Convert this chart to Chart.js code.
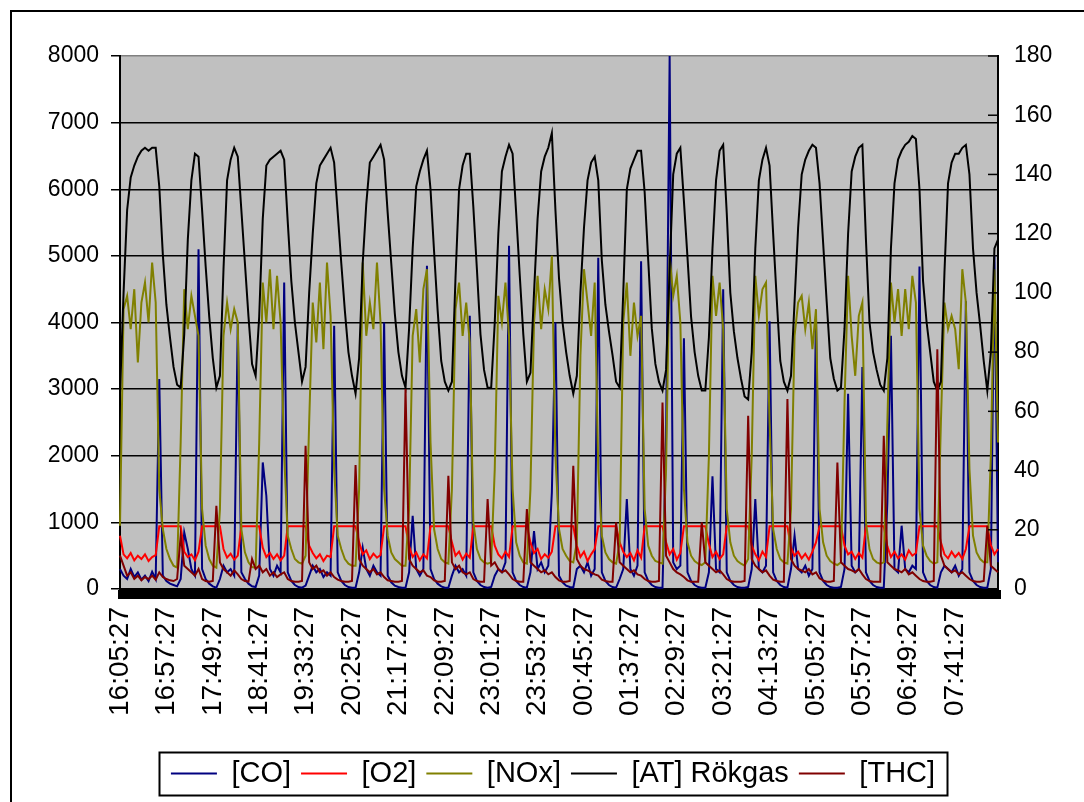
<!DOCTYPE html>
<html>
<head>
<meta charset="utf-8">
<script src="https://cdn.jsdelivr.net/npm/chart.js@4.4.0/dist/chart.umd.min.js"></script>
<style>
  html, body { margin: 0; padding: 0; background: #fff; }
  #wrap { position: relative; width: 1084px; height: 802px; overflow: hidden; }
  #frame { position: absolute; left: 10px; top: 10px; width: 1100px; height: 900px; border: 2px solid #000; }
  #myChart { position: absolute; left: 0; top: 0; }
</style>
</head>
<body>
<div id="wrap">
  <div id="frame"></div>
  <canvas id="myChart" width="1084" height="802"></canvas>
</div>
<script>
// one sample every 4 minutes, a time label every 13 samples
var tickLabels = ['16:05:27', '16:57:27', '17:49:27', '18:41:27', '19:33:27', '20:25:27', '21:17:27',
	'22:09:27', '23:01:27', '23:53:27', '00:45:27', '01:37:27', '02:29:27', '03:21:27', '04:13:27',
	'05:05:27', '05:57:27', '06:49:27', '07:41:27'];

// [CO] (left axis)
var co = [
	300,200,150,300,180,250,140,200,120,260,150,3150,200,
	120,80,60,40,150,850,600,300,200,5100,300,150,80,
	40,20,150,350,250,300,200,4000,250,150,80,40,30,
	200,1900,1400,300,200,350,250,4600,250,120,60,30,20,
	50,200,350,250,300,180,250,200,3950,250,120,60,30,
	20,20,250,620,300,200,350,250,200,4000,200,100,50,
	30,20,20,250,1100,300,200,300,4850,300,150,80,40,
	20,20,200,350,250,300,200,4100,250,120,60,30,20,
	30,200,300,250,400,5150,250,120,60,30,20,250,870,
	300,400,250,350,1450,4000,200,100,50,30,20,300,350,
	250,400,200,300,4970,250,120,60,30,20,150,300,1350,
	300,200,350,4920,250,120,60,30,20,20,2270,8000,400,
	300,350,3765,250,120,60,30,20,20,250,1690,300,250,
	4500,250,120,60,30,20,20,30,300,1350,300,250,350,
	4020,250,120,60,30,20,300,800,300,250,350,200,300,
	4100,250,120,60,30,20,20,30,300,2930,350,250,300,
	3330,250,120,60,30,20,20,1300,3800,300,250,950,300,
	250,350,300,4840,250,120,60,30,20,250,350,300,250,
	350,200,300,4320,250,120,60,30,20,20,300,5000,400
];

// [O2] (left axis)
var o2 = [
	800,520,460,540,430,500,450,520,420,480,510,940,940,
	940,940,940,940,940,560,480,520,430,560,940,940,940,
	940,940,940,600,470,530,440,500,940,940,940,940,940,
	940,620,480,540,450,520,430,500,940,940,940,940,940,
	940,650,540,460,520,420,500,480,940,940,940,940,940,
	940,940,700,520,580,450,530,470,510,940,940,940,940,
	940,940,940,640,480,550,430,520,460,940,940,940,940,
	940,940,700,500,560,440,530,470,940,940,940,940,940,
	940,650,520,460,560,480,940,940,940,940,940,700,540,
	600,450,520,470,560,940,940,940,940,940,940,650,480,
	560,420,520,600,940,940,940,940,940,940,700,560,480,
	540,430,580,470,940,940,940,940,940,940,700,520,600,
	440,540,940,940,940,940,940,940,940,680,480,560,450,
	520,940,940,940,940,940,940,940,650,520,430,560,480,
	940,940,940,940,940,940,620,500,560,460,530,440,560,
	700,940,940,940,940,940,940,940,650,520,560,450,540,
	470,940,940,940,940,940,940,640,480,560,460,520,440,
	580,500,540,940,940,940,940,940,940,700,520,460,560,
	480,540,450,600,940,940,940,940,940,940,660,520,600
];

// [NOx] (left axis)
var nox = [
	950,4200,4400,3900,4500,3400,4300,4600,4000,4900,4300,1500,900,
	600,450,350,320,2200,4500,3900,4400,4100,3800,1200,650,450,
	350,320,1200,3800,4300,3900,4200,4000,900,550,400,330,320,
	2200,4600,4000,4800,3900,4700,4000,2000,800,600,450,400,380,
	500,2500,4300,3700,4600,3600,4900,4100,1800,800,600,450,380,
	350,350,1500,4900,3800,4300,3900,4900,4000,1500,800,550,450,
	400,350,350,1200,3800,4200,3400,4500,4800,2200,900,600,450,
	400,380,1500,4200,4600,3800,4300,3700,1000,600,450,400,380,
	400,1800,4400,4000,4600,3800,1500,700,500,400,380,1500,4000,
	4700,3900,4500,4200,5000,2000,900,600,500,420,400,700,3500,
	4800,4300,3800,4600,1800,800,550,450,400,380,700,4000,4600,
	3500,4300,3800,4100,1200,650,500,420,400,380,1800,5000,4400,
	4700,4000,1500,700,500,420,380,360,400,2000,4700,4100,4600,
	3900,1200,700,500,420,380,350,450,2000,4700,4100,4500,4600,
	2500,900,600,450,400,380,1200,3800,4300,4400,3900,4300,3600,
	4200,1200,700,500,420,380,360,400,2800,4700,3800,3200,4100,
	4300,1000,600,450,400,380,400,2500,4600,4000,4500,3800,4500,
	3900,4700,4300,1200,650,500,420,380,400,2500,4300,3900,4100,
	3900,3300,4800,4300,1800,800,550,450,400,400,2000,4800,2200
];

// [AT] Rökgas (right axis)
var at = [
	66,100,128,139,143,146,148,149,148,149,149,136,113,
	96,85,75,69,68,86,118,138,147,146,128,109,92,
	78,68,72,108,138,145,149,146,128,110,92,76,72,
	92,125,143,145,146,147,148,145,124,104,90,80,70,
	75,100,120,137,143,145,147,149,144,127,110,94,80,
	72,66,78,110,130,144,146,148,150,145,127,110,93,
	80,72,68,88,115,136,141,145,148,135,114,94,77,
	70,67,70,105,135,143,147,147,129,108,86,74,68,
	68,90,120,141,146,150,147,127,106,86,70,73,100,
	125,141,146,149,154,128,105,90,80,72,66,72,100,
	122,138,144,146,138,111,96,87,79,70,68,100,135,
	142,145,148,148,134,111,88,76,70,67,74,108,140,
	147,149,131,112,92,80,72,67,67,85,115,138,148,
	150,127,100,87,78,71,65,64,80,115,138,145,149,
	143,120,98,77,70,67,72,97,122,140,145,148,150,
	149,137,117,97,78,71,67,68,88,120,141,146,149,
	150,118,90,80,74,69,67,78,115,137,145,148,150,
	151,153,152,135,104,90,80,70,67,70,107,137,144,
	147,147,149,150,140,115,100,89,77,67,80,115,118
];

// [THC] (left axis)
var thc = [
	500,350,200,250,150,200,130,180,150,200,140,250,180,
	150,130,120,150,800,350,300,250,200,300,150,120,110,
	120,1250,400,300,250,200,280,220,150,120,110,450,300,
	350,250,300,200,250,180,220,250,150,120,110,110,120,
	2150,400,300,350,250,280,200,250,180,140,120,110,110,
	120,1860,450,350,300,250,300,220,250,180,130,120,110,
	110,120,3000,450,350,300,250,280,200,180,130,110,110,
	120,1700,400,300,350,250,220,250,150,120,110,110,1350,
	350,400,300,250,280,220,150,120,110,110,1200,400,350,
	300,250,280,220,250,180,130,110,110,120,1850,450,350,
	300,280,250,220,200,140,120,110,110,1000,400,350,300,
	250,280,220,200,150,120,110,110,120,2800,500,400,300,
	250,220,180,130,110,110,110,1000,400,350,300,250,280,
	220,150,120,110,110,110,120,2600,450,350,300,250,280,
	200,140,120,110,110,2850,450,350,300,280,250,300,220,
	250,160,130,110,110,120,1900,400,350,300,280,250,300,
	220,150,120,110,110,110,2300,400,350,300,280,250,300,
	220,250,200,150,120,110,110,120,3600,500,350,300,250,
	280,220,250,200,150,120,110,110,120,950,350,300,250
];

var categories = [];
for (var i = 0; i < co.length; i++) {
	categories.push(i % 13 === 0 ? tickLabels[i / 13] : '');
}

var family = "'Liberation Sans', Arial, sans-serif";
var axisFont = { family: family, size: 23 };
var xFont = { family: family, size: 28 };
var legendFont = { family: family, size: 29 };

// grey plot area like the Excel original
var plotBg = {
	id: 'plotBg',
	beforeDraw: function (chart) {
		var a = chart.chartArea, c = chart.ctx;
		c.save();
		c.fillStyle = '#C0C0C0';
		c.fillRect(a.left, a.top, a.right - a.left, a.bottom - a.top);
		c.restore();
	}
};

// right axis tick marks point into the plot
var rightTicks = {
	id: 'rightTicks',
	afterDraw: function (chart) {
		var s = chart.scales.y1, c = chart.ctx;
		c.save();
		c.strokeStyle = '#000';
		c.lineWidth = 1.5;
		s.ticks.forEach(function (t) {
			var y = s.getPixelForValue(t.value);
			c.beginPath();
			c.moveTo(s.left - 10, y);
			c.lineTo(s.left, y);
			c.stroke();
		});
		c.restore();
	}
};

// box round the legend
var legendBox = {
	id: 'legendBox',
	afterDraw: function (chart) {
		var lg = chart.legend;
		if (!lg || !lg.legendHitBoxes || !lg.legendHitBoxes.length) return;
		var l = Infinity, r = -Infinity;
		lg.legendHitBoxes.forEach(function (h) {
			l = Math.min(l, h.left);
			r = Math.max(r, h.left + h.width);
		});
		var c = chart.ctx;
		c.save();
		c.strokeStyle = '#000';
		c.lineWidth = 2;
		c.strokeRect(Math.round(l - 12) + 0.5, Math.round(lg.top + 3) + 0.5, Math.round(r - l + 24), Math.round(lg.height - 6));
		c.restore();
	}
};

var ctx = document.getElementById('myChart').getContext('2d');
var chart = new Chart(ctx, {
	type: 'line',
	data: {
		labels: categories,
		datasets: [
			{ label: '[CO]', data: co, borderColor: '#000080', backgroundColor: '#000080', borderWidth: 2, yAxisID: 'y', order: 5 },
			{ label: '[O2]', data: o2, borderColor: '#FF0000', backgroundColor: '#FF0000', borderWidth: 2, yAxisID: 'y', order: 4 },
			{ label: '[NOx]', data: nox, borderColor: '#808000', backgroundColor: '#808000', borderWidth: 2, yAxisID: 'y', order: 3 },
			{ label: '[AT] Rökgas', data: at, borderColor: '#000000', backgroundColor: '#000000', borderWidth: 2, yAxisID: 'y1', order: 2 },
			{ label: '[THC]', data: thc, borderColor: '#800000', backgroundColor: '#800000', borderWidth: 2, yAxisID: 'y', order: 1 }
		]
	},
	options: {
		responsive: false,
		animation: false,
		events: [],
		elements: {
			point: { radius: 0 },
			line: { tension: 0, fill: false }
		},
		layout: { padding: { top: 56, bottom: 4, left: 22, right: 0 } },
		scales: {
			x: {
				type: 'category',
				offset: false,
				grid: { drawOnChartArea: false, drawTicks: true, tickLength: 10, tickWidth: 5, tickColor: '#000', color: '#000' },
				border: { display: true, color: '#000', width: 2 },
				ticks: {
					autoSkip: false, maxRotation: 90, minRotation: 90, padding: 8, color: '#000', font: xFont,
					callback: function (v, i) { return categories[i]; }
				},
				afterFit: function (s) { s.height = 160; }
			},
			y: {
				position: 'left', min: 0, max: 8000,
				ticks: {
					stepSize: 1000, padding: 12, color: '#000', font: axisFont,
					callback: function (v) { return String(v); }
				},
				grid: {
					color: function (c) { return c.tick && c.tick.value === 8000 ? '#808080' : '#000'; },
					tickColor: '#000', lineWidth: 1.5, tickLength: 9
				},
				border: { color: '#000', width: 2 },
				afterFit: function (s) { s.width = 98; }
			},
			y1: {
				position: 'right', min: 0, max: 180,
				ticks: {
					stepSize: 20, padding: 16, color: '#000', font: axisFont,
					callback: function (v) { return String(v); }
				},
				grid: { drawOnChartArea: false, drawTicks: false, color: '#000' },
				border: { color: '#000', width: 2 },
				afterFit: function (s) { s.width = 86; }
			}
		},
		plugins: {
			legend: {
				position: 'bottom',
				labels: {
					usePointStyle: true, pointStyle: 'line', pointStyleWidth: 46,
					padding: 10, color: '#000', font: legendFont,
					sort: function (a, b) { return a.datasetIndex - b.datasetIndex; }
				}
			},
			tooltip: { enabled: false }
		}
	},
	plugins: [plotBg, rightTicks, legendBox]
});
</script>
</body>
</html>
